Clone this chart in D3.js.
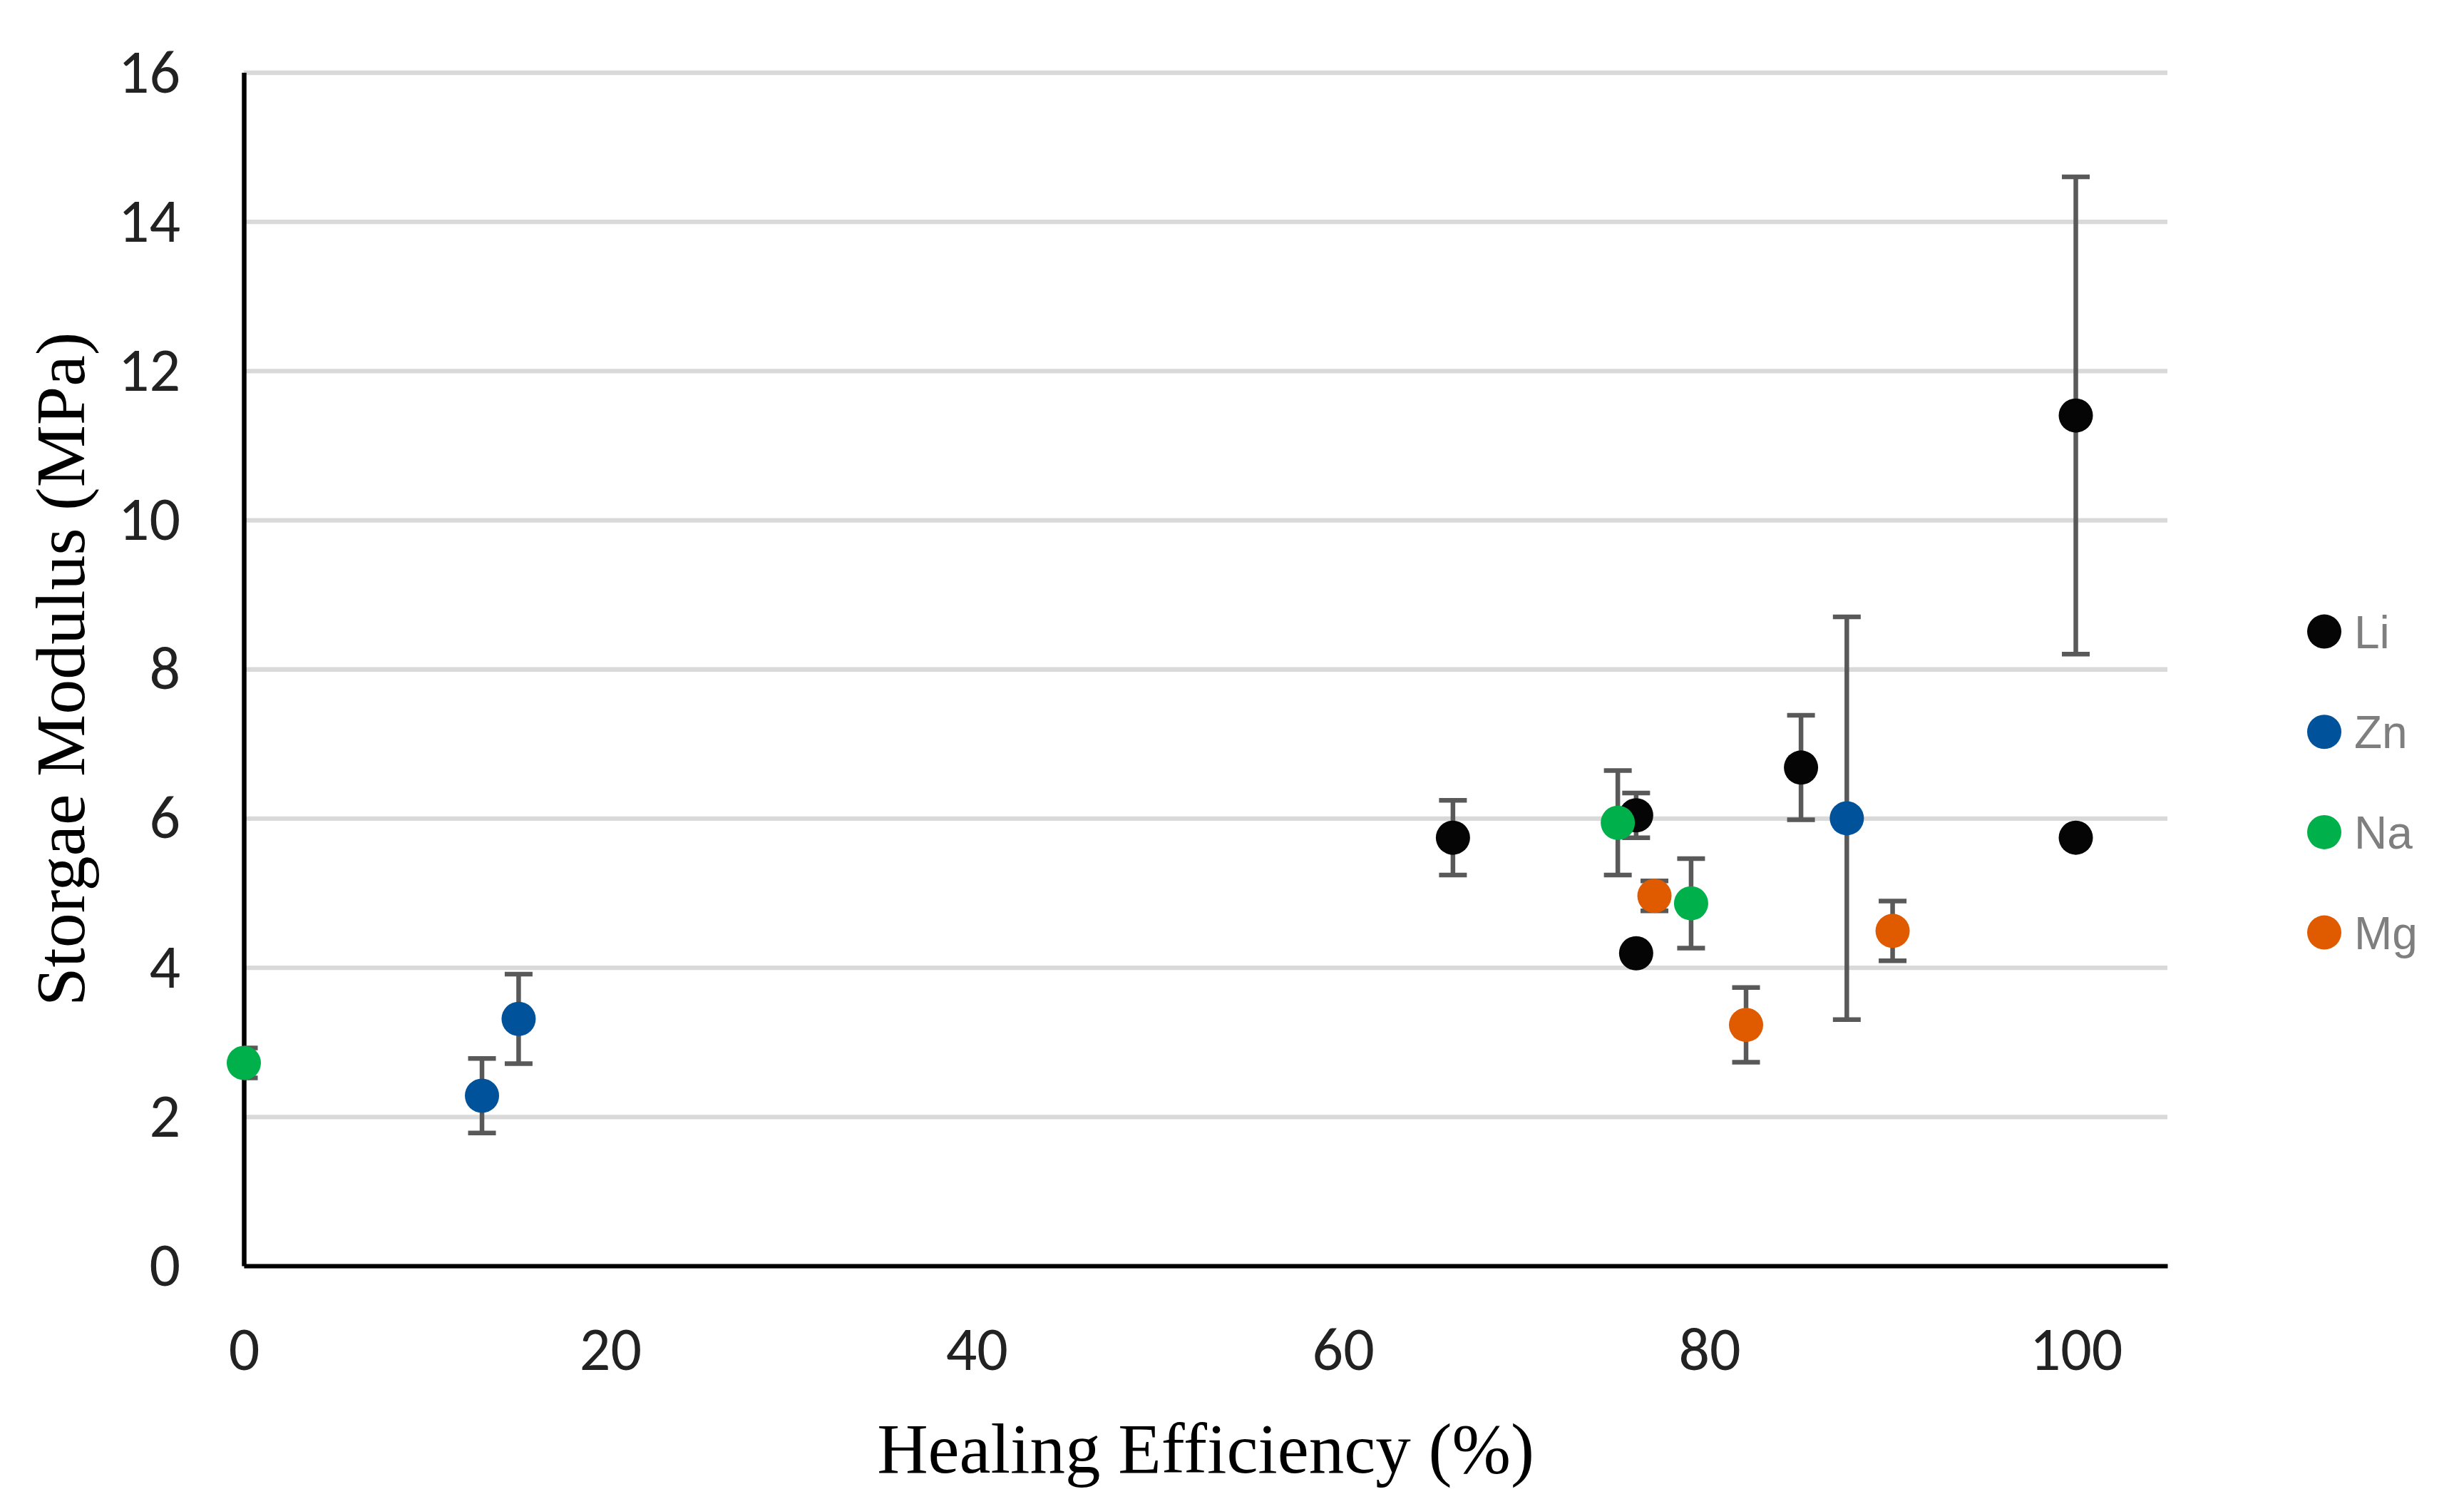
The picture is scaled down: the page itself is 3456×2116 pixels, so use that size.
<!DOCTYPE html>
<html>
<head>
<meta charset="utf-8">
<script src="https://cdn.jsdelivr.net/npm/d3@7"></script>
<style>
  body { margin: 0; background: #fff; }
  svg { display: block; }
</style>
</head>
<body>
<svg id="chart"></svg>
<script>
// values
var seriesNames = ['Li', 'Zn', 'Na', 'Mg'];
var seriesColors = ['#050505', '#00529B', '#00B04A', '#E05A00'];

var liX = [66, 76, 76, 85, 100, 100];
var liY = [5.74, 6.04, 4.19, 6.68, 11.4, 5.74];
var liErr = [0.5, 0.3, 0, 0.7, 3.2, 0];

var znX = [13, 15, 87.5];
var znY = [2.28, 3.31, 6.0];
var znErr = [0.5, 0.6, 2.7];

var naX = [0, 75, 79];
var naY = [2.72, 5.94, 4.86];
var naErr = [0.2, 0.7, 0.6];

var mgX = [77, 82, 90];
var mgY = [4.96, 3.23, 4.49];
var mgErr = [0.2, 0.5, 0.4];

var xTicks = [0, 20, 40, 60, 80, 100];
var yTicks = [0, 2, 4, 6, 8, 10, 12, 14, 16];

var width = 3456,
  height = 2116,
  margin = { top: 101.5, right: 416, bottom: 341, left: 342 },
  innerWidth = width - margin.left - margin.right,
  innerHeight = height - margin.top - margin.bottom,
  tickFont = "Carlito, 'Liberation Sans Narrow', 'Liberation Sans', sans-serif",
  titleFont = "'Liberation Serif', 'DejaVu Serif', serif";

var series = [
  { name: seriesNames[0], color: seriesColors[0], x: liX, y: liY, err: liErr },
  { name: seriesNames[1], color: seriesColors[1], x: znX, y: znY, err: znErr },
  { name: seriesNames[2], color: seriesColors[2], x: naX, y: naY, err: naErr },
  { name: seriesNames[3], color: seriesColors[3], x: mgX, y: mgY, err: mgErr }
];

var svg = d3.select('#chart').attr('width', width).attr('height', height);

var xScale = d3.scaleLinear().domain([0, 105]).range([0, innerWidth]),
  yScale = d3.scaleLinear().domain([0, 16]).range([innerHeight, 0]);

var g = svg
  .append('g')
  .attr('transform', `translate(${margin.left}, ${margin.top})`);

g.append('clipPath')
  .attr('id', 'plot-clip')
  .append('rect')
  .attr('width', innerWidth)
  .attr('height', innerHeight);

// gridlines + y tick labels
var yGrid = g
  .append('g')
  .call(
    d3.axisLeft(yScale).tickValues(yTicks).tickSize(-innerWidth).tickPadding(89)
  );
yGrid.select('.domain').remove();
yGrid.selectAll('line').attr('stroke', '#d9d9d9').attr('stroke-width', 6.3);
yGrid
  .selectAll('text')
  .attr('dy', '0.32em')
  .attr('fill', '#222')
  .style('font-family', tickFont)
  .style('font-size', '86px');

// x axis
var xAxisG = g
  .append('g')
  .attr('transform', 'translate(0, ' + innerHeight + ')')
  .call(
    d3.axisBottom(xScale).tickValues(xTicks).tickSize(0).tickSizeOuter(0).tickPadding(85)
  );
xAxisG.select('.domain').attr('stroke', '#000').attr('stroke-width', 6);
xAxisG
  .selectAll('text')
  .attr('fill', '#222')
  .style('font-family', tickFont)
  .style('font-size', '86px');

// y axis line
var yAxisG = g.append('g').call(d3.axisLeft(yScale).tickValues([]).tickSizeOuter(0));
yAxisG.select('.domain').attr('stroke', '#000').attr('stroke-width', 6.5);

var capHalf = 19.5,
  radius = 24;

series.forEach(function (s) {
  var pts = s.x.map((d, i) => ({ x: d, y: s.y[i], e: s.err[i] }));
  var bars = g
    .append('g')
    .attr('clip-path', 'url(#plot-clip)')
    .attr('stroke', '#595959')
    .attr('stroke-width', 6.5)
    .selectAll('g')
    .data(pts.filter((d) => d.e > 0))
    .enter()
    .append('g');

  bars
    .append('line')
    .attr('x1', (d) => xScale(d.x))
    .attr('x2', (d) => xScale(d.x))
    .attr('y1', (d) => yScale(d.y + d.e))
    .attr('y2', (d) => yScale(d.y - d.e));
  bars
    .append('line')
    .attr('x1', (d) => xScale(d.x) - capHalf)
    .attr('x2', (d) => xScale(d.x) + capHalf)
    .attr('y1', (d) => yScale(d.y + d.e))
    .attr('y2', (d) => yScale(d.y + d.e));
  bars
    .append('line')
    .attr('x1', (d) => xScale(d.x) - capHalf)
    .attr('x2', (d) => xScale(d.x) + capHalf)
    .attr('y1', (d) => yScale(d.y - d.e))
    .attr('y2', (d) => yScale(d.y - d.e));

  g.append('g')
    .selectAll('circle')
    .data(pts)
    .enter()
    .append('circle')
    .attr('cx', (d) => xScale(d.x))
    .attr('cy', (d) => yScale(d.y))
    .attr('r', radius)
    .attr('fill', s.color);
});

// axis titles
svg
  .append('text')
  .attr('transform', 'translate(118, ' + (margin.top + innerHeight / 2) + ') rotate(-90)')
  .attr('text-anchor', 'middle')
  .style('font-family', titleFont)
  .style('font-size', '98px')
  .attr('fill', '#000')
  .text('Storgae Modulus (MPa)');

svg
  .append('text')
  .attr('x', margin.left + innerWidth / 2)
  .attr('y', 2065)
  .attr('text-anchor', 'middle')
  .style('font-family', titleFont)
  .style('font-size', '99px')
  .attr('fill', '#000')
  .text('Healing Efficiency (%)');

// legend
var legendY = d3.scalePoint().domain(seriesNames).range([885.6, 1307.6]);
var legend = svg
  .append('g')
  .selectAll('g')
  .data(series)
  .enter()
  .append('g')
  .attr('transform', (d) => 'translate(3260, ' + legendY(d.name) + ')');

legend.append('circle').attr('r', radius).attr('fill', (d) => d.color);
legend
  .append('text')
  .attr('x', 42)
  .attr('y', 23)
  .attr('fill', '#7f7f7f')
  .style('font-family', "'Liberation Sans', Arial, sans-serif")
  .style('font-size', '64px')
  .text((d) => d.name);
</script>
</body>
</html>
